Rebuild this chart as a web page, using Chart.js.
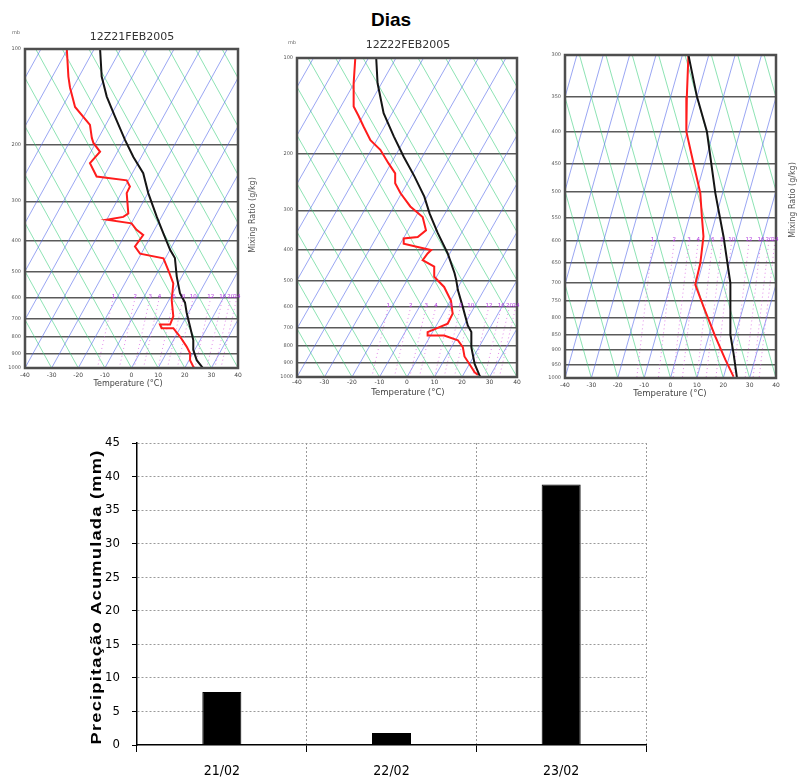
<!DOCTYPE html>
<html lang="pt">
<head>
<meta charset="utf-8">
<title>Dias</title>
<script src="https://cdn.jsdelivr.net/npm/chart.js@4.4.1/dist/chart.umd.min.js"></script>
<style>
  html, body { margin: 0; padding: 0; background: #fff; }
  body { position: relative; width: 798px; height: 784px; overflow: hidden; }
  canvas { position: absolute; }
  #dias { position: absolute; left: 341px; top: 9px; width: 100px; line-height: 22px; text-align: center;
          font: bold 19px "Liberation Sans", Arial, sans-serif; color: #000; }
</style>
</head>
<body>
<div id="dias">Dias</div>
<canvas id="skew1" width="270" height="400" style="left:0;top:0"></canvas>
<canvas id="skew2" width="270" height="400" style="left:270px;top:0"></canvas>
<canvas id="skew3" width="258" height="400" style="left:540px;top:0"></canvas>
<canvas id="precip" width="798" height="384" style="left:0;top:400px"></canvas>
<script>
// ---- sounding 12Z21FEB2005 (x = value on the skewed temperature axis, °C) ----
const s1BlackP = [100, 122, 141, 163, 193, 218, 245, 283, 336, 379, 426, 452, 517, 583, 624, 670, 742, 817, 877, 945, 990, 1000];
const s1BlackT = [-11.8, -11.2, -9.3, -6.2, -2.4, 0.7, 4.4, 6.3, 9.5, 12.0, 14.5, 16.3, 17.0, 18.2, 20.1, 20.7, 22.0, 23.2, 23.2, 24.5, 26.4, 26.8];
const s1RedP = [100, 122, 132, 152, 173, 190, 197, 210, 228, 251, 258, 270, 283, 328, 336, 343, 352, 369, 383, 416, 438, 453, 493, 543, 612, 689, 731, 731, 750, 750, 797, 857, 899, 945, 990, 1000];
const s1RedT = [-24.3, -23.7, -23.1, -21.2, -15.6, -14.9, -14.3, -11.8, -15.6, -13.1, -1.8, -0.6, -1.8, -1.2, -3.1, -9.3, 0.0, 1.9, 4.4, 1.3, 3.2, 12.0, 13.8, 15.7, 15.1, 15.7, 14.5, 10.7, 11.3, 15.7, 18.2, 20.7, 22.0, 22.0, 23.2, 23.4];

// ---- sounding 12Z22FEB2005 ----
const s2BlackP = [100, 120, 149, 176, 204, 235, 272, 307, 354, 410, 473, 497, 534, 604, 689, 723, 806, 910, 990, 1000];
const s2BlackT = [-11.2, -10.7, -8.5, -4.8, -1.2, 2.7, 6.3, 8.2, 11.2, 14.8, 17.3, 17.9, 18.5, 20.3, 22.1, 23.4, 23.4, 24.6, 26.4, 26.8];
const s2RedP = [100, 120, 142, 152, 164, 181, 194, 214, 230, 247, 265, 292, 315, 347, 364, 368, 382, 391, 400, 410, 430, 451, 485, 522, 577, 633, 681, 723, 741, 741, 767, 806, 862, 910, 967, 985];
const s2RedT = [-18.8, -19.4, -19.4, -17.6, -15.8, -13.3, -9.7, -6.7, -4.3, -4.3, -2.4, 1.2, 5.7, 6.9, 3.9, -1.2, -1.2, 3.9, 8.8, 7.5, 5.7, 9.9, 9.9, 13.5, 16.0, 16.6, 14.8, 7.5, 7.5, 13.5, 18.5, 20.3, 20.9, 22.7, 24.6, 25.8];

// ---- third sounding (300-1000 hPa) ----
const s3BlackP = [300, 350, 399, 502, 590, 702, 851, 912, 1000];
const s3BlackT = [6.8, 10.0, 13.8, 17.0, 20.1, 22.7, 22.7, 23.9, 25.2];
const s3RedP = [300, 350, 399, 449, 502, 548, 590, 652, 706, 766, 857, 934, 995];
const s3RedT = [6.8, 6.2, 6.0, 8.7, 11.3, 11.9, 12.5, 11.3, 9.4, 12.5, 17.0, 20.8, 23.9];

// ---- diagram background ----
const PRESS_FULL = [100, 200, 300, 400, 500, 600, 700, 800, 900, 1000];
const PRESS_LOW = [300, 350, 400, 450, 500, 550, 600, 650, 700, 750, 800, 850, 900, 950, 1000];
const TEMP_TICKS = [-40, -30, -20, -10, 0, 10, 20, 30, 40];
const ISOTHERMS = [-110, -100, -90, -80, -70, -60, -50, -40, -30, -20, -10, 0, 10, 20, 30, 40];
const ADIABATS = [-40, -30, -20, -10, 0, 10, 20, 30, 40, 50, 60, 70, 80, 90, 100, 110];
const SKEW_SHIFT = 66;      // isotherm shift between 1000 and 100 hPa
const ADIABAT_SHIFT = -66;  // green line shift between 1000 and 100 hPa
const MIX_LABELS = ["1", "2", "3", "4", "6", "8", "10", "12", "16", "20", "24"];
const MIX_X_600 = [-6.8, 1.4, 7.0, 10.5, 16.0, 19.5, 23.2, 29.8, 34.3, 37.3, 39.6];
const MIX_X_1000 = [-12.8, -4.6, 1.0, 4.5, 10.0, 13.5, 17.2, 23.8, 28.3, 31.3, 33.6];

// ---- precipitation ----
const DAYS = ["21/02", "22/02", "23/02"];
const PRECIP = [7.9, 1.8, 38.8];
const Y_TITLE = "Precipitação Acumulada (mm)";

const NARROW = '"Liberation Sans Narrow", "Arial Narrow", "DejaVu Sans Condensed", sans-serif';
Chart.defaults.font.family = '"DejaVu Sans", sans-serif';

const pts = (ps, ts) => ps.map((p, i) => ({ x: ts[i], y: p }));

const skewDecor = {
  id: "skewDecor",
  afterDraw(chart, args, o) {
    const { ctx, chartArea: a } = chart;
    const xs = chart.scales.x, ys = chart.scales.y;
    ctx.save();
    ctx.strokeStyle = "#4e4e4e";
    ctx.lineWidth = 2.5;
    ctx.strokeRect(a.left, a.top, a.right - a.left, a.bottom - a.top);

    ctx.textAlign = "center";
    ctx.textBaseline = "middle";
    ctx.fillStyle = "#b03ae0";
    ctx.font = '5.5px "DejaVu Sans", sans-serif';
    const my = ys.getPixelForValue(600) - 1;
    MIX_LABELS.forEach((l, i) => ctx.fillText(l, xs.getPixelForValue(MIX_X_600[i]), my));

    ctx.fillStyle = "#444";
    ctx.font = (o.tempSize || 8) + 'px "DejaVu Sans", sans-serif';
    ctx.fillText("Temperature (\u00B0C)", o.tempX, o.tempY);
    if (o.title) {
      ctx.fillStyle = "#333";
      ctx.font = '11px "DejaVu Sans", sans-serif';
      ctx.fillText(o.title, o.titleX, o.titleY);
    }
    if (o.mb) {
      ctx.fillStyle = "#666";
      ctx.font = '5px "DejaVu Sans", sans-serif';
      ctx.fillText("mb", o.mb[0], o.mb[1]);
    }
    if (o.mix) {
      ctx.translate(o.mix[0], o.mix[1]);
      ctx.rotate(-Math.PI / 2);
      ctx.fillStyle = "#555";
      ctx.font = '8px "DejaVu Sans", sans-serif';
      ctx.fillText("Mixing Ratio (g/kg)", 0, 0);
    }
    ctx.restore();
  }
};

function skewChart(id, o) {
  const line = { showLine: true, pointRadius: 0, fill: false, tension: 0 };
  const ds = [
    { ...line, data: pts(o.blackP, o.blackT), borderColor: "#151515", borderWidth: 2, order: 0 },
    { ...line, data: pts(o.redP, o.redT), borderColor: "#ff1c1c", borderWidth: 2, order: 0 }
  ];
  MIX_X_600.forEach((x, i) => ds.push({ ...line, data: [{ x, y: 600 }, { x: MIX_X_1000[i], y: 1000 }],
    borderColor: "rgba(215,90,225,0.7)", borderWidth: 1, borderDash: [1, 3], order: 1 }));
  ISOTHERMS.forEach(t => ds.push({ ...line, data: [{ x: t, y: 1000 }, { x: t + SKEW_SHIFT, y: 100 }],
    borderColor: "rgba(85,105,235,0.75)", borderWidth: 0.8, order: 2 }));
  ADIABATS.forEach(t => ds.push({ ...line, data: [{ x: t, y: 1000 }, { x: t + ADIABAT_SHIFT, y: 100 }],
    borderColor: "rgba(50,205,120,0.7)", borderWidth: 0.8, order: 2 }));

  return new Chart(document.getElementById(id), {
    type: "scatter",
    data: { datasets: ds },
    options: {
      responsive: false, animation: false, events: [],
      layout: { padding: { left: 0, top: o.top, right: o.padRight, bottom: 0 } },
      plugins: { legend: { display: false }, tooltip: { enabled: false }, skewDecor: o.decor },
      scales: {
        x: {
          type: "linear", min: -40, max: 40,
          afterBuildTicks: s => { s.ticks = TEMP_TICKS.map(v => ({ value: v })); },
          afterFit: s => { s.height = o.xH; },
          ticks: { font: { size: 6 }, color: "#444", padding: o.xPad, maxRotation: 0, autoSkip: false },
          grid: { display: false, drawTicks: false }, border: { display: false }
        },
        y: {
          type: "logarithmic", reverse: true, min: o.levels[0], max: 1000,
          afterBuildTicks: s => { s.ticks = o.levels.map(v => ({ value: v })); },
          afterFit: s => { s.width = o.yW; },
          ticks: { font: { size: 5 }, color: "#555", padding: 4, autoSkip: false, callback: v => String(v) },
          grid: { color: "#5a5a5a", lineWidth: 1.4, drawTicks: false }, border: { display: false }
        }
      }
    },
    plugins: [skewDecor]
  });
}

skewChart("skew1", {
  blackP: s1BlackP, blackT: s1BlackT, redP: s1RedP, redT: s1RedT, levels: PRESS_FULL,
  top: 49, padRight: 32, yW: 25, xH: 32, xPad: 4,
  decor: { title: "12Z21FEB2005", titleX: 132, titleY: 37, tempX: 128, tempY: 384, tempSize: 8, mb: [16, 33], mix: [253, 215] }
});
skewChart("skew2", {
  blackP: s2BlackP, blackT: s2BlackT, redP: s2RedP, redT: s2RedT, levels: PRESS_FULL,
  top: 58, padRight: 23, yW: 27, xH: 23, xPad: 2,
  decor: { title: "12Z22FEB2005", titleX: 138, titleY: 45, tempX: 138, tempY: 393, tempSize: 8.5, mb: [22, 43] }
});
skewChart("skew3", {
  blackP: s3BlackP, blackT: s3BlackT, redP: s3RedP, redT: s3RedT, levels: PRESS_LOW,
  top: 55, padRight: 22, yW: 25, xH: 22, xPad: 4,
  decor: { tempX: 130, tempY: 394, tempSize: 8.5, mix: [253, 200] }
});

const precipTitle = {
  id: "precipTitle",
  afterDraw(chart) {
    const ctx = chart.ctx;
    ctx.save();
    ctx.translate(97, 197);
    ctx.rotate(-Math.PI / 2);
    ctx.font = 'bold 15px "Liberation Sans", Arial, sans-serif';
    ctx.fillStyle = "#000";
    ctx.textAlign = "center";
    ctx.textBaseline = "middle";
    ctx.letterSpacing = "1px";
    const w = ctx.measureText(Y_TITLE).width;
    ctx.scale(295 / w, 1);
    ctx.fillText(Y_TITLE, 0, 0);
    ctx.restore();
  }
};

new Chart(document.getElementById("precip"), {
  type: "bar",
  data: {
    labels: DAYS,
    datasets: [{ data: PRECIP, backgroundColor: "#000", borderColor: "#000", borderWidth: 1,
                 barPercentage: 0.23, categoryPercentage: 1 }]
  },
  options: {
    responsive: false, animation: false, events: [],
    layout: { padding: { left: 0, top: 43, right: 152, bottom: 0 } },
    plugins: { legend: { display: false }, tooltip: { enabled: false } },
    scales: {
      x: {
        afterFit: s => { s.height = 39; },
        grid: { offset: true, color: c => c.index === 0 ? "rgba(0,0,0,0)" : "#9a9a9a", lineWidth: 1,
                tickColor: "#000", tickLength: 7 },
        border: { display: true, color: "#000", width: 1.5, dash: [2, 2] },
        ticks: { font: { family: NARROW, size: 14 }, color: "#000", padding: 11 }
      },
      y: {
        min: 0, max: 45,
        afterFit: s => { s.width = 137; },
        ticks: { stepSize: 5, font: { family: NARROW, size: 13 }, color: "#000", padding: 12 },
        grid: { color: c => (c.tick && c.tick.value === 0) ? "rgba(0,0,0,0)" : "#9a9a9a", lineWidth: 1,
                tickColor: "#000", tickLength: 5 },
        border: { display: true, color: "#000", width: 1.5, dash: [2, 2] }
      }
    }
  },
  plugins: [precipTitle]
});
</script>
</body>
</html>
